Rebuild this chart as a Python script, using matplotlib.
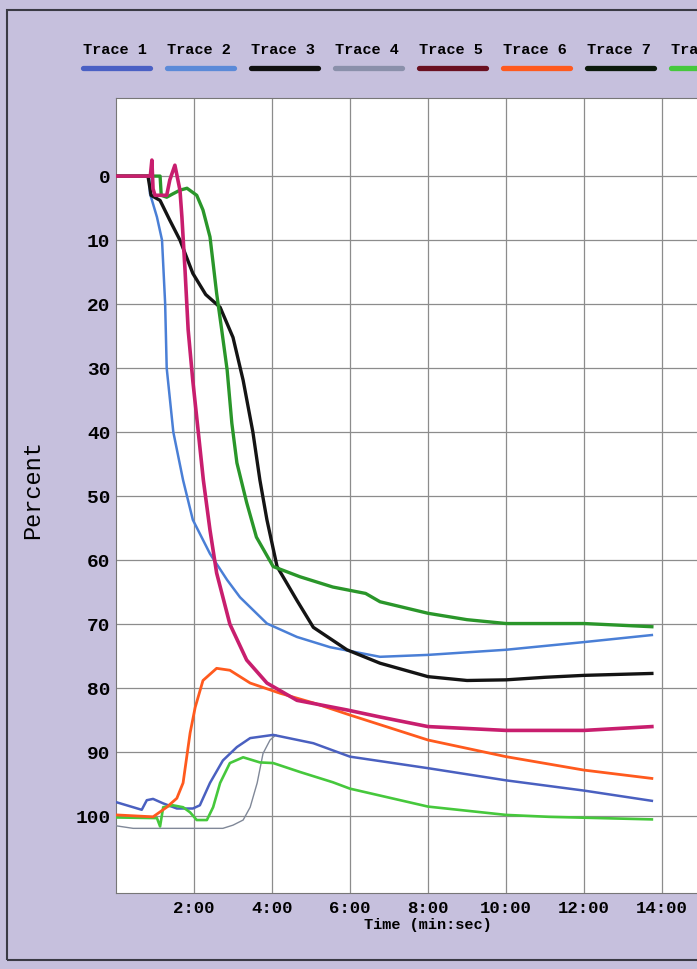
import matplotlib

matplotlib.use("Agg")

import matplotlib.pyplot as plt
from matplotlib.lines import Line2D
from matplotlib.patches import Rectangle
from matplotlib.ticker import FixedLocator

# time in minutes, values in percent
trace1_t = [0, 0.44, 0.66, 0.79, 0.95, 1.21, 1.56, 1.97, 2.15, 2.41, 2.74, 3.1, 3.44, 4.03, 5.06, 6.0, 8.0, 10.0, 12.0, 13.74]
trace1_v = [97.8, 98.6, 99.0, 97.5, 97.3, 98.0, 98.8, 98.8, 98.3, 94.8, 91.3, 89.2, 87.8, 87.3, 88.6, 90.7, 92.5, 94.4, 96.0, 97.6]

trace2_t = [0, 0.85, 0.87, 1.05, 1.18, 1.26, 1.3, 1.47, 1.72, 1.97, 2.41, 2.85, 3.18, 3.87, 4.64, 5.49, 6.77, 8.0, 10.0, 12.0, 13.74]
trace2_v = [0, 0, 2.7, 6.4, 10, 19.9, 30, 40, 47.5, 53.7, 59, 63.1, 65.8, 69.9, 72, 73.6, 75.1, 74.8, 74, 72.8, 71.7]

trace3_t = [0, 0.82, 0.9, 1.13, 1.38, 1.64, 1.97, 2.3, 2.67, 3.0, 3.26, 3.51, 3.69, 3.87, 4.13, 4.64, 5.06, 5.92, 6.77, 8.0, 9.0, 10.0, 11.0, 12.0, 13.74]
trace3_v = [0, 0, 3.0, 3.8, 6.9, 10, 15.2, 18.5, 20.5, 25.2, 31.9, 40, 47.5, 53.7, 61, 66.3, 70.5, 74, 76.1, 78.2, 78.8, 78.7, 78.3, 78, 77.7]

trace4_t = [0, 0.44, 2.74, 3.0, 3.26, 3.44, 3.62, 3.77, 3.95, 4.1]
trace4_v = [101.5, 101.9, 101.9, 101.4, 100.6, 98.6, 94.8, 90.2, 88.1, 87.3]

trace5_t = [0, 0.88, 0.92, 0.95, 1.0, 1.3, 1.38, 1.51, 1.64, 1.69, 1.77, 1.85, 1.97, 2.11, 2.24, 2.41, 2.58, 2.92, 3.35, 3.87, 4.64, 5.92, 6.77, 8.0, 10.0, 12.0, 13.74]
trace5_v = [0, 0, -2.5, 2, 3, 3, 0.6, -1.7, 2.2, 6.4, 14.7, 24, 32, 40, 47.5, 55.3, 62, 70, 75.6, 79.2, 81.9, 83.4, 84.5, 86, 86.6, 86.6, 86]

trace6_t = [0, 0.95, 1.3, 1.56, 1.72, 1.9, 2.03, 2.23, 2.58, 2.92, 3.44, 4.21, 5.06, 6.0, 8.0, 10.0, 12.0, 13.74]
trace6_v = [99.8, 100.1, 98.6, 97.2, 94.8, 87, 83, 78.8, 76.9, 77.2, 79.2, 80.8, 82.3, 84.2, 88.1, 90.7, 92.8, 94.1]

trace7_t = [0, 1.13, 1.16, 1.3, 1.45, 1.64, 1.82, 2.07, 2.23, 2.41, 2.49, 2.58, 2.71, 2.85, 2.97, 3.1, 3.35, 3.6, 4.03, 4.72, 5.56, 6.4, 6.77, 8.0, 9.0, 10.0, 12.0, 13.74]
trace7_v = [0, 0, 3.0, 3.3, 2.8, 2.2, 1.9, 3.0, 5.3, 9.5, 13.6, 18.3, 24, 30.3, 38.6, 44.8, 51, 56.4, 61, 62.6, 64.2, 65.2, 66.5, 68.3, 69.3, 69.9, 69.9, 70.4]

trace8_t = [0, 1.05, 1.13, 1.21, 1.46, 1.72, 1.9, 2.07, 2.33, 2.49, 2.67, 2.92, 3.26, 3.69, 4.03, 4.72, 5.56, 6.0, 8.0, 10.0, 11.1, 13.74]
trace8_v = [100.2, 100.3, 101.6, 98.6, 98.3, 98.6, 99.4, 100.6, 100.6, 98.6, 94.8, 91.7, 90.8, 91.6, 91.7, 93.1, 94.7, 95.7, 98.5, 99.8, 100.1, 100.5]

trace_names = ["Trace 1", "Trace 2", "Trace 3", "Trace 4", "Trace 5", "Trace 6", "Trace 7", "Trace 8"]
x_ticks = [2, 4, 6, 8, 10, 12, 14]
x_tick_labels = ["2:00", "4:00", "6:00", "8:00", "10:00", "12:00", "14:00"]
y_ticks = [0, 10, 20, 30, 40, 50, 60, 70, 80, 90, 100]

legend_colors = ["#4a60c4", "#5b8ad8", "#111111", "#8a90aa", "#6a1020", "#ff5a1e", "#0c1a0c", "#46c83c"]
plot_colors = ["#4a60c0", "#4a7fd6", "#141414", "#808898", "#c81e6e", "#ff5a1e", "#2a962a", "#46c83c"]
widths = [1.8, 1.8, 2.4, 1.0, 2.6, 2.0, 2.4, 1.9]

series = [
    (trace1_t, trace1_v), (trace2_t, trace2_v), (trace3_t, trace3_v), (trace4_t, trace4_v),
    (trace5_t, trace5_v), (trace6_t, trace6_v), (trace7_t, trace7_v), (trace8_t, trace8_v),
]

mono = ["Liberation Mono", "DejaVu Sans Mono"]
bg = "#c6c0dd"

fig = plt.figure(figsize=(6.97, 9.69), dpi=100, facecolor=bg)
ax = fig.add_axes([116 / 697, 76 / 969, 624 / 697, 795 / 969])
ax.set_facecolor("white")

# draw order: keep the noisy upper traces over each other like the original
order = [3, 0, 7, 5, 1, 2, 6, 4]
for i in order:
    t, v = series[i]
    ax.plot(t, v, color=plot_colors[i], lw=widths[i], solid_joinstyle="round", zorder=3)

ax.set_xlim(0, 16)
ax.set_ylim(112, -12.2)
ax.xaxis.set_major_locator(FixedLocator(x_ticks))
ax.set_xticklabels(x_tick_labels, fontfamily=mono, fontweight="bold", fontsize=12.5)
ax.yaxis.set_major_locator(FixedLocator(y_ticks))
ax.set_yticklabels([str(y) for y in y_ticks], fontfamily=mono, fontweight="bold", fontsize=14)
ax.tick_params(length=0, pad=4)
ax.tick_params(axis="x", pad=6)
ax.grid(True, color="#8c8c8c", lw=0.9)
ax.set_axisbelow(True)
for s in ax.spines.values():
    s.set_color("#777777")
    s.set_linewidth(0.8)

ax.set_xlabel("Time (min:sec)", fontfamily=mono, fontweight="bold", fontsize=11, labelpad=1)
fig.text(33 / 697, 1 - 490 / 969, "Percent", rotation=90, ha="center", va="center",
         fontfamily=mono, fontsize=17)

# legend across the top: label with a thick swatch underneath
for i, name in enumerate(trace_names):
    x0 = (83 + 84 * i) / 697
    fig.text(x0, 1 - 50 / 969, name, ha="left", va="center",
             fontfamily=mono, fontweight="bold", fontsize=11)
    fig.add_artist(Line2D([x0, x0 + 67 / 697], [1 - 68 / 969] * 2, color=legend_colors[i],
                          lw=3.8, solid_capstyle="round", transform=fig.transFigure))

fig.add_artist(Rectangle((7 / 697, 9 / 969), 1.0, 1 - 19 / 969, transform=fig.transFigure,
                         fill=False, edgecolor="#3a3a44", lw=1.5))

fig.savefig("out.png", dpi=100, facecolor=bg)
